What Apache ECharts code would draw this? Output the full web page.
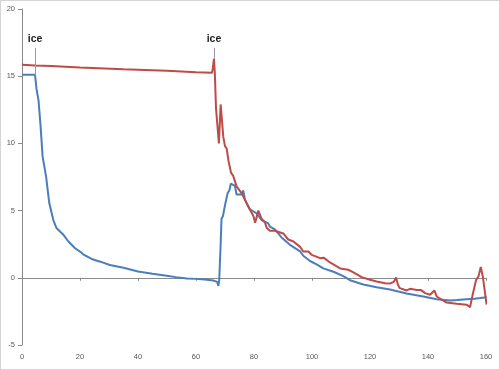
<!DOCTYPE html>
<html>
<head>
<meta charset="utf-8">
<script src="https://cdn.jsdelivr.net/npm/echarts@6/dist/echarts.min.js"></script>
<style>
html,body{margin:0;padding:0;background:#fff;}
#c{width:500px;height:370px;box-sizing:border-box;border:1px solid #d4d4d4;}
</style>
</head>
<body>
<div id="c"></div>
<script>
// ---- data ----
var xTicks = [0, 20, 40, 60, 80, 100, 120, 140, 160];
var yTicks = [-5, 0, 5, 10, 15, 20];

var blueX = [0,4.5,5.0,5.5,5.7,6.4,7.1,7.6,8.3,9.4,10.0,10.8,11.9,13.1,14.3,16.0,18.3,20,21.1,24,27,30.3,35,40,45,49.9,53,56.8,60,63,66,67.3,67.7,68.0,68.5,68.8,69.3,70,70.9,71.5,72,73.4,74,75.7,76.3,76.9,78.6,80.9,82.6,84.9,85.5,87.2,89.5,90.1,92.4,95.9,97,99.3,101.6,103.9,107.4,110.8,113.1,117.7,122.3,126.9,132.6,138.4,143,147.6,150,153.3,156,158,160.2];
var blueY = [15.1,15.1,14.05,14.0,13.2,11.3,9.03,9.0,7.55,5.56,5.5,4.3,3.7,3.45,3.2,2.7,2.2,1.95,1.75,1.4,1.2,0.95,0.75,0.47,0.3,0.15,0.05,-0.05,-0.08,-0.12,-0.2,-0.3,-0.6,-0.2,2.5,4.4,4.6,5.4,6.3,6.5,7.0,6.85,6.2,6.2,6.5,5.8,5.1,4.8,4.3,4.05,3.8,3.6,3.0,2.95,2.45,1.96,1.64,1.25,1.0,0.7,0.45,0.12,-0.18,-0.5,-0.7,-0.87,-1.17,-1.39,-1.6,-1.69,-1.65,-1.59,-1.55,-1.5,-1.44];

var redX = [0,4.5,10,20,35,50,60,65.5,65.8,66.2,66.5,66.9,67.3,67.9,68.5,69.4,70,70.6,71.2,72.1,72.8,73.2,74,75.7,76.9,78,79.8,80.4,80.7,81.5,82.6,83.8,84.4,85.5,87.2,87.8,90.1,91.8,92.4,93.6,95.9,97,98.7,99.9,102.8,104,106.2,109.7,112.5,114.3,117.1,120,122.3,125.2,127,128.2,129,129.6,130.3,132.6,133.8,136.1,137.5,139,140.7,142.2,143,146.4,149.9,153.3,154.5,155.4,156.6,157.4,158.2,158.9,159.4,160.2];
var redY = [15.85,15.8,15.75,15.65,15.52,15.4,15.3,15.25,15.6,16.3,15.2,12.6,12.5,10.0,12.9,10.5,9.8,9.6,8.7,7.8,7.6,7.5,6.8,6.3,5.8,5.3,4.6,4.1,4.07,5.0,4.4,4.1,3.7,3.5,3.5,3.55,3.3,2.85,2.83,2.7,2.3,1.96,1.96,1.71,1.46,1.5,1.14,0.7,0.6,0.4,0.05,-0.15,-0.27,-0.4,-0.42,-0.3,0.02,-0.5,-0.77,-0.94,-0.82,-0.9,-0.9,-1.14,-1.26,-0.94,-1.39,-1.84,-1.93,-2.0,-2.18,-1.26,-0.15,0.1,0.8,0.1,0.1,-2.0];

// annotation "ice" markers: [x, top y, bottom y]
var iceNotes = [[4.5, 17.1, 15.05], [66.2, 17.1, 16.3]];
var iceText = "ice";

function pairs(xs, ys){ return xs.map(function(x,i){ return [x, ys[i]]; }); }

var chart = echarts.init(document.getElementById('c'));
var axisGray = '#8a8a8a';
var labelStyle = {color:'#595959', fontSize:7.5, fontFamily:'Liberation Sans, Arial, sans-serif'};

chart.setOption({
  animation:false,
  grid:{left:21, right:13, top:8, bottom:24},
  xAxis:[{
    type:'value', min:xTicks[0], max:xTicks[xTicks.length-1], interval:20,
    axisLine:{show:true, onZero:true, lineStyle:{color:axisGray, width:1}},
    axisTick:{show:true, inside:false, length:3, lineStyle:{color:axisGray}},
    axisLabel:{show:false},
    splitLine:{show:false}
  },{
    type:'value', position:'bottom', min:xTicks[0], max:xTicks[xTicks.length-1], interval:20,
    axisLine:{show:false, onZero:false},
    axisTick:{show:false},
    axisLabel:Object.assign({margin:8}, labelStyle),
    splitLine:{show:false}
  }],
  yAxis:{
    type:'value', min:yTicks[0], max:yTicks[yTicks.length-1], interval:5,
    axisLine:{show:true, onZero:false, lineStyle:{color:axisGray, width:1}},
    axisTick:{show:true, length:4, lineStyle:{color:axisGray}},
    axisLabel:Object.assign({margin:7}, labelStyle),
    splitLine:{show:false}
  },
  series:[{
    type:'line', name:'red', xAxisIndex:0, data:pairs(redX, redY),
    showSymbol:false, symbol:'none',
    lineStyle:{color:'#be4b48', width:2}, z:3,
    markLine:{
      silent:true, symbol:'none', animation:false,
      lineStyle:{color:'#9a9a9a', width:1, type:'solid'},
      label:{show:true, position:'start', formatter:iceText, color:'#222', fontWeight:'bold', fontSize:10.5, fontFamily:'Liberation Sans, Arial, sans-serif', distance:3},
      data: iceNotes.map(function(n){ return [{coord:[n[0], n[1]]},{coord:[n[0], n[2]]}]; })
    }
  },{
    type:'line', name:'blue', xAxisIndex:0, data:pairs(blueX, blueY),
    showSymbol:false, symbol:'none',
    lineStyle:{color:'#4a7ebb', width:2}, z:2
  }]
});
</script>
</body>
</html>
